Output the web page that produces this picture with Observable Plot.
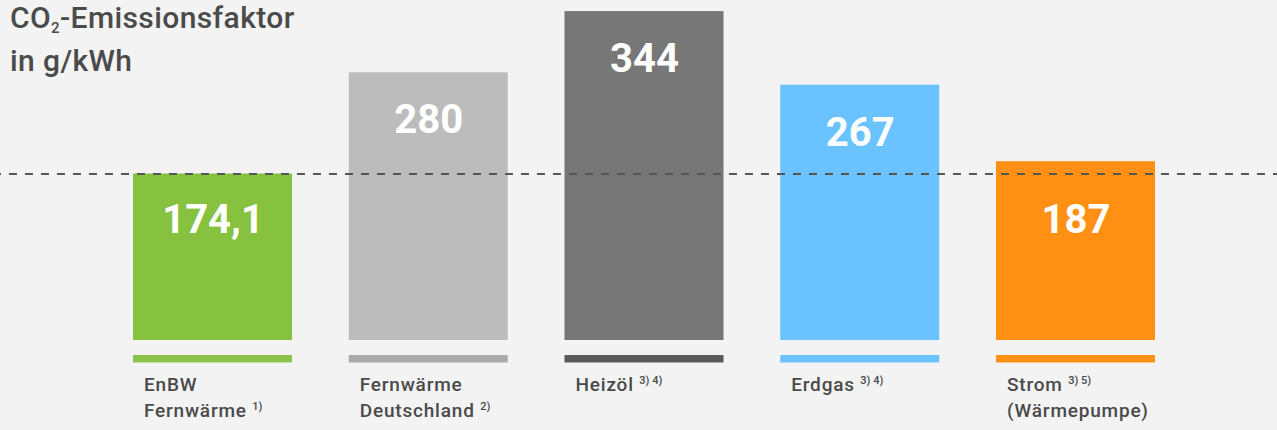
<!DOCTYPE html>
<html><head><meta charset="utf-8">
<script src="https://cdn.jsdelivr.net/npm/d3@7"></script>
<script src="https://cdn.jsdelivr.net/npm/@observablehq/plot@0.6"></script>
<style>
html,body{margin:0;padding:0;background:#f3f3f3;}
#wrap{position:relative;width:1277px;height:430px;overflow:hidden;}
#title{position:absolute;left:10px;top:-4px;font-family:Roboto,sans-serif;font-weight:500;font-size:30px;line-height:43px;letter-spacing:0.4px;color:#4a4a4a;z-index:2;}
#title sub{font-size:15px;vertical-align:-5px;line-height:0;}
.lbl text{letter-spacing:0.8px;}
</style></head><body><div id="wrap"><div id="title">CO<sub>2</sub>-Emissionsfaktor<br>in g/kWh</div></div>
<script>
const categories = ["EnBW Fernwärme","Fernwärme Deutschland","Heizöl","Erdgas","Strom (Wärmepumpe)"];
const values = [174.1, 280, 344, 267, 187];
const valueLabels = ["174,1","280","344","267","187"];
const labelLines = ["EnBW\nFernwärme^1)","Fernwärme\nDeutschland^2)","Heizöl^3) 4)","Erdgas^3) 4)","Strom^3) 5)\n(Wärmepumpe)"];
const barColors = ["#86c140","#bcbcbc","#777777","#6ac2ff","#ff9013"];
const stripColors = ["#8bc34a","#aaaaaa","#5a5a5a","#6ac4ff","#ff9116"];
const referenceValue = 174.1;

const idx = d3.range(categories.length);
const X = i => categories[i];

const chart = Plot.plot({
  width: 1277,
  height: 430,
  marginTop: 0, marginBottom: 90, marginLeft: 0, marginRight: 0,
  style: {background: "#f3f3f3", overflow: "visible"},
  x: {domain: categories, range: [133, 1155], paddingInner: 0.263, paddingOuter: 0, align: 0, round: false, axis: null},
  y: {domain: [0, 355.6], range: [340, 0], axis: null},
  color: {type: "identity"},
  marks: [
    Plot.barY(idx, {x: X, y1: 0, y2: i => values[i], fill: i => barColors[i], inset: 0}),
    Plot.barY(idx, {x: X, y1: -15.7, y2: -23.5, fill: i => stripColors[i], inset: 0}),
    Plot.ruleY([referenceValue], {stroke: "#555555", strokeWidth: 2, strokeDasharray: "8,8", strokeDashoffset: 7}),
    Plot.text(idx, {x: X, y: i => values[i] < 200 ? 126 : values[i] - 50, text: i => valueLabels[i],
      fill: "white", fontSize: 40, fontWeight: "bold", fontFamily: "Roboto"}),
    Plot.text(idx, {x: X, y: -34, text: i => labelLines[i], className: "lbl",
      textAnchor: "start", lineAnchor: "top", dx: -69, lineHeight: 1.36,
      fill: "#4a4a4a", fontSize: 19, fontWeight: 500, fontFamily: "Roboto"})
  ]
});

// superscript footnotes
function splitNode(node) {
  const t = node.textContent;
  const k = t.indexOf("^");
  if (k < 0) return;
  const main = t.slice(0, k), note = t.slice(k + 1);
  node.textContent = main + " ";
  const sp = document.createElementNS("http://www.w3.org/2000/svg", "tspan");
  sp.setAttribute("font-size", "11");
  sp.setAttribute("baseline-shift", "7");
  sp.setAttribute("letter-spacing", "0");
  sp.textContent = note;
  node.appendChild(sp);
}
d3.select(chart).selectAll(".lbl text").each(function() {
  const tspans = this.querySelectorAll("tspan");
  if (tspans.length) tspans.forEach(splitNode); else splitNode(this);
});

document.getElementById("wrap").appendChild(chart);
chart.style.position = "absolute";
chart.style.left = "0";
chart.style.top = "0";
</script></body></html>
